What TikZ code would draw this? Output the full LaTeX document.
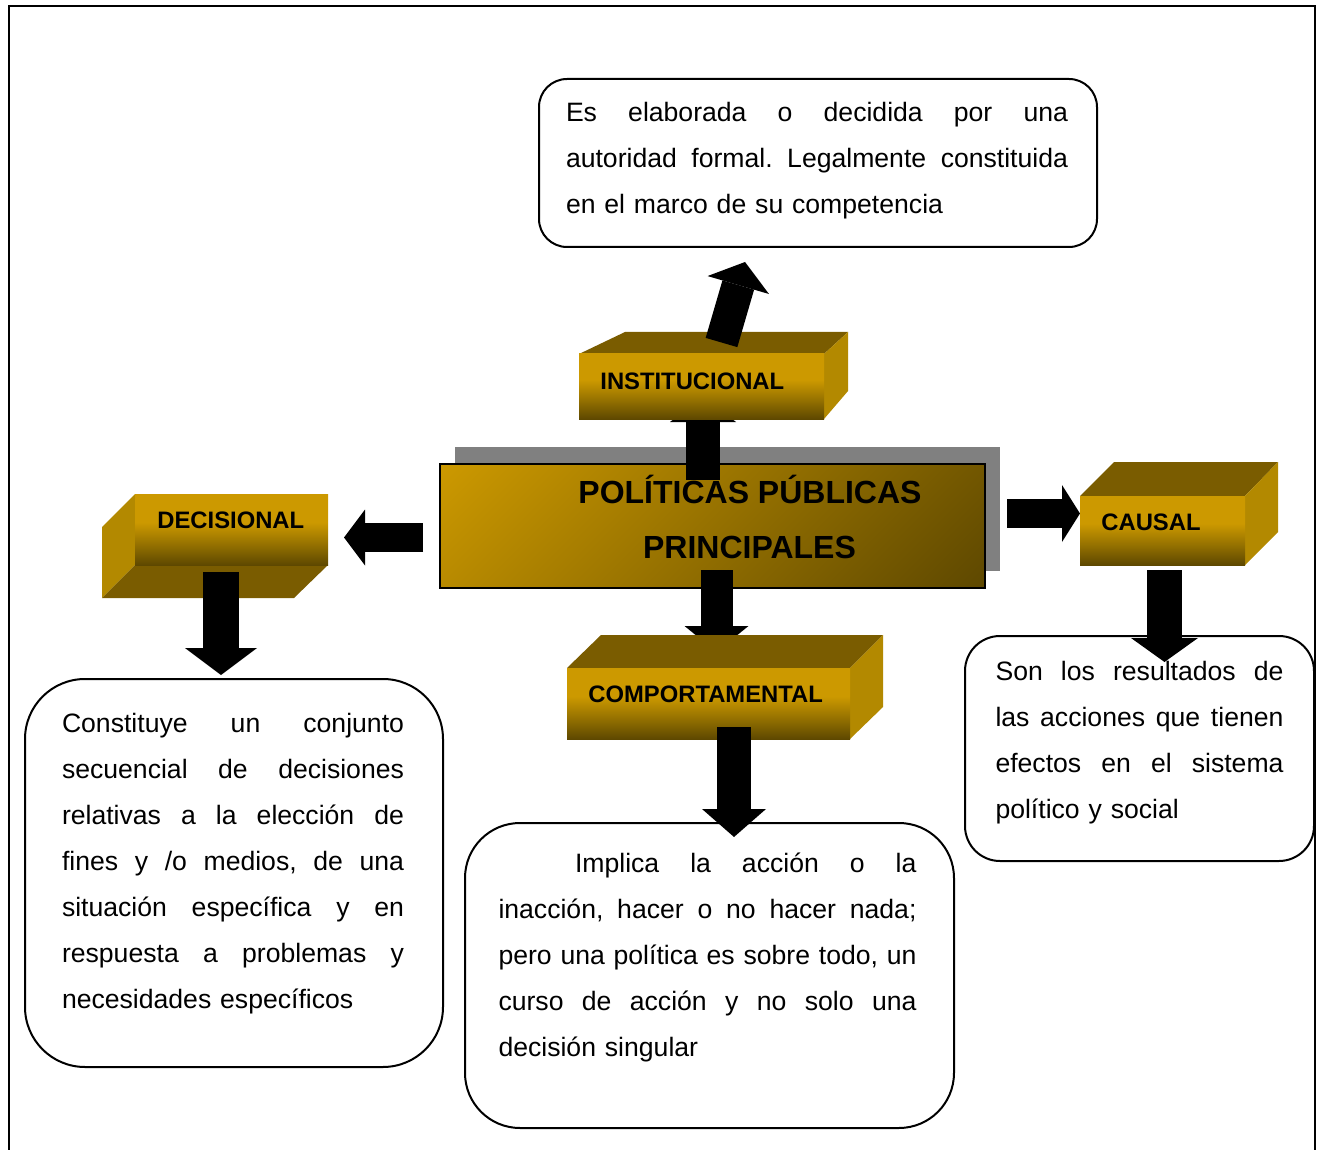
\documentclass[tikz,border=0pt]{standalone}
\usepackage{fontspec}
\setmainfont{Liberation Sans}
\usetikzlibrary{arrows.meta}
\definecolor{gold}{RGB}{204,153,0}
\definecolor{brdark}{RGB}{94,72,0}
\definecolor{brmid}{RGB}{150,114,0}
\definecolor{topf}{RGB}{122,92,0}
\definecolor{sidef}{RGB}{179,137,0}
\definecolor{shadowg}{RGB}{128,128,128}
\pgfdeclareverticalshading{frontshade}{100bp}{color(0bp)=(brdark); color(25bp)=(brdark); color(40bp)=(brmid); color(55bp)=(gold); color(100bp)=(gold)}
\pgfdeclarehorizontalshading{cshade}{100bp}{color(0bp)=(gold); color(14.6bp)=(gold); color(85.4bp)=(brdark); color(100bp)=(brdark)}
\newcommand\jl[2]{\leavevmode\hbox to #1{\spaceskip=0.278em plus 1fil\relax\xspaceskip=0.278em plus 1fil\relax #2}}
\begin{document}
\begin{tikzpicture}[x=0.5pt,y=-0.5pt,
  front/.style={anchor=north west, inner sep=0pt, outer sep=0pt, shade, shading=frontshade},
  lbl/.style={anchor=west, inner sep=0pt, font=\bfseries\fontsize{11.9}{14}\selectfont},
  txtbox/.style={anchor=north west, draw=black, line width=1pt, fill=white, inner sep=0pt, rounded corners=#1},
  body/.style={anchor=north west, inner sep=0pt, outer sep=0pt, align=left, font=\fontsize{13.3}{23}\selectfont\frenchspacing},
  ctitle/.style={anchor=base, inner sep=0pt, font=\bfseries\fontsize{16}{19}\selectfont},
  blk/.style n args={3}{draw=black, line width=#1, -{Triangle[width=#2, length=#3, line width=0pt]}}]
\useasboundingbox (0,0) rectangle (1318,1150);
\clip (0,0) rectangle (1318,1150);
% outer frame
\draw[line width=1pt] (9,1170) -- (9,6) -- (1315,6) -- (1315,1170);

% text boxes
\node[txtbox=14pt, minimum width=279pt, minimum height=84pt] (topbox) at (538,78) {};
\node[body, text width=251pt] (toptxt) at (566,89.4) {\strut\jl{251pt}{Es elaborada o decidida por una}\\
\jl{251pt}{autoridad formal. Legalmente constituida}\\
en el marco de su competencia};

\node[txtbox=30pt, minimum width=209pt, minimum height=194pt] (leftbox) at (24,678) {};
\node[body, text width=171pt] (lefttxt) at (62,700.4) {\strut\jl{171pt}{Constituye un conjunto}\\
\jl{171pt}{secuencial de decisiones}\\
\jl{171pt}{relativas a la elección de}\\
\jl{171pt}{fines y /o medios, de una}\\
\jl{171pt}{situación específica y en}\\
\jl{171pt}{respuesta a problemas y}\\
necesidades específicos};

\node[txtbox=27.5pt, minimum width=244.5pt, minimum height=152.5pt] (cenbox) at (464,822) {};
\node[body, text width=209pt] (centxt) at (498.5,840.1) {\strut\hspace*{38.25pt}\jl{170.75pt}{Implica la acción o la}\\
\jl{209pt}{inacción, hacer o no hacer nada;}\\
\jl{209pt}{pero una política es sobre todo, un}\\
\jl{209pt}{curso de acción y no solo una}\\
decisión singular};

\node[txtbox=17.5pt, minimum width=174.5pt, minimum height=112.5pt] (rightbox) at (964,635) {};
\node[body, text width=144pt] (righttxt) at (995.5,648.3) {\strut\jl{144pt}{Son los resultados de}\\
\jl{144pt}{las acciones que tienen}\\
\jl{144pt}{efectos en el sistema}\\
político y social};

% central box
\fill[shadowg] (455,447) rectangle (1000,571);
\node[anchor=north west, draw=black, line width=0.8pt, shade, shading=cshade, shading angle=-45,
      minimum width=272.5pt, minimum height=62pt, inner sep=0pt] (pol) at (439,463) {};
\node[ctitle] (pt1) at (750,503.5) {POLÍTICAS PÚBLICAS};
\node[ctitle] (pt2) at (749.5,558) {PRINCIPALES};

% arrows from the central box
\coordinate (a2s) at (703,480);   \coordinate (a2e) at (703,397);
\coordinate (a5s) at (716.5,570); \coordinate (a5e) at (716.5,652);
\coordinate (a3s) at (423,537.5); \coordinate (a3e) at (344,537.5);
\coordinate (a4s) at (1007,513.5); \coordinate (a4e) at (1080,513.5);
\draw[blk={17pt}{33pt}{12.5pt}] (a2s) -- (a2e);
\draw[blk={16pt}{32pt}{13pt}] (a5s) -- (a5e);
\draw[blk={14.5pt}{28pt}{10.5pt}] (a3s) -- (a3e);
\draw[blk={14.5pt}{28.5pt}{9pt}] (a4s) -- (a4e);

% INSTITUCIONAL
\fill[topf] (579,354) -- (625,332) -- (848,332) -- (824,354) -- cycle;
\fill[sidef] (824,354) -- (848,332) -- (848,391) -- (824,419) -- cycle;
\node[front, minimum width=122.5pt, minimum height=32.5pt] (inst) at (579,354) {};
\node[lbl] (instl) at (600,381) {INSTITUCIONAL};
\coordinate (a1s) at (721.5,342.5); \coordinate (a1e) at (745,262);
\draw[blk={16.5pt}{32pt}{12pt}] (a1s) -- (a1e);

% DECISIONAL
\fill[sidef] (135,494) -- (102,527) -- (102,598) -- (135,565) -- cycle;
\fill[topf] (135,565) -- (328,565) -- (294,598) -- (102,598) -- cycle;
\node[front, minimum width=96.5pt, minimum height=35.5pt] (deci) at (135,494) {};
\node[lbl] (decil) at (157,520) {DECISIONAL};
\coordinate (a6s) at (221,572); \coordinate (a6e) at (221,675);
\draw[blk={18pt}{36pt}{13.5pt}] (a6s) -- (a6e);

% CAUSAL
\fill[topf] (1080,496) -- (1114,462) -- (1278,462) -- (1245,496) -- cycle;
\fill[sidef] (1245,496) -- (1278,462) -- (1278,532) -- (1245,565) -- cycle;
\node[front, minimum width=82.5pt, minimum height=34.5pt] (caus) at (1080,496) {};
\node[lbl] (causl) at (1101,522) {CAUSAL};
\coordinate (a7s) at (1164.5,570); \coordinate (a7e) at (1164.5,662);
\draw[blk={17.5pt}{33.5pt}{12pt}] (a7s) -- (a7e);

% COMPORTAMENTAL
\fill[topf] (567,668) -- (601,635) -- (883,635) -- (850,668) -- cycle;
\fill[sidef] (850,668) -- (883,635) -- (883,707) -- (850,739) -- cycle;
\node[front, minimum width=141.5pt, minimum height=35.5pt] (comp) at (567,668) {};
\node[lbl] (compl) at (588,694) {COMPORTAMENTAL};
\coordinate (a8s) at (734,727); \coordinate (a8e) at (734,837);
\draw[blk={17pt}{32pt}{14pt}] (a8s) -- (a8e);
\end{tikzpicture}
\end{document}
